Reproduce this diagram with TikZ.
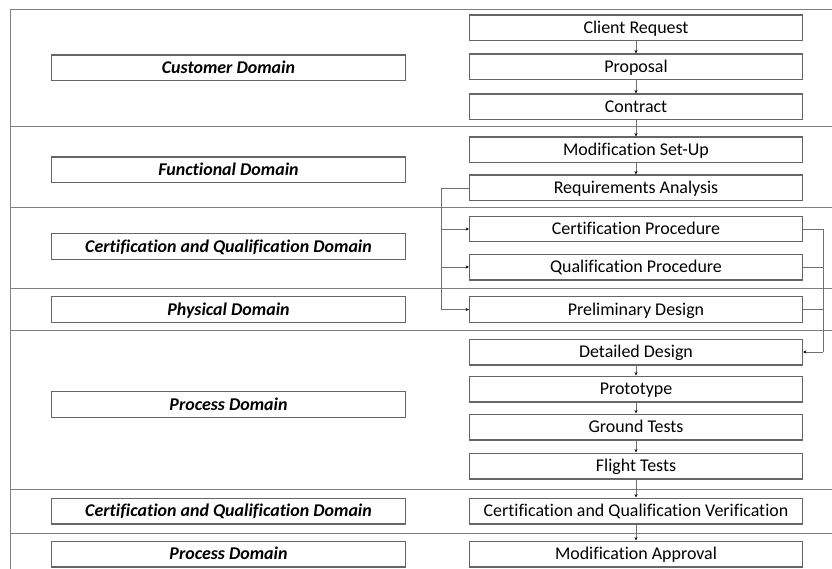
\documentclass[tikz,border=0pt]{standalone}
\usepackage{fontspec}
\setmainfont[Ligatures=CommonOff]{Carlito}
\usetikzlibrary{arrows.meta}
\definecolor{boxline}{HTML}{666666}
\definecolor{sepline}{HTML}{808080}
\definecolor{conline}{HTML}{707070}
\tikzset{
  stepbox/.style={draw=boxline, line width=1.1pt, minimum width=334pt, minimum height=26pt,
    inner sep=0pt, text height=12pt, text depth=0pt, font=\fontsize{18}{21}\selectfont},
  domainbox/.style={draw=boxline, line width=1.1pt, minimum width=355pt, minimum height=26pt,
    inner sep=0pt, text height=12pt, text depth=0pt, font=\fontsize{18}{21}\selectfont\bfseries\itshape},
  sep/.style={draw=sepline, line width=1pt},
  flow/.style={draw=conline, line width=0.7pt, -{Stealth[length=3.5pt,width=3pt,color=black]}},
  bus/.style={draw=conline, line width=0.7pt}
}
\begin{document}
\begin{tikzpicture}[x=1bp, y=-1bp]
\useasboundingbox (0,0) rectangle (832,569);

% frame and domain separators
\draw[sep] (832,10) -- (10,10) -- (10,569);
\foreach \yy in {126,207,288,330,489,533}
  \draw[sep] (10,\yy) -- (832,\yy);

% domain labels
\node[domainbox] (dcust)  at (228.5,68)    {Customer Domain};
\node[domainbox] (dfunc)  at (228.5,170)   {Functional Domain};
\node[domainbox] (dcq)    at (228.5,246.5) {Certification and Qualification Domain};
\node[domainbox] (dphys)  at (228.5,309.5) {Physical Domain};
\node[domainbox] (dproc)  at (228.5,404.5) {Process Domain};
\node[domainbox] (dcq2)   at (228.5,511)   {Certification and Qualification Domain};
\node[domainbox] (dproc2) at (228.5,554)   {Process Domain};

% process steps
\node[stepbox] (req)   at (636,28)    {Client Request};
\node[stepbox] (prop)  at (636,67)    {Proposal};
\node[stepbox] (cont)  at (636,107)   {Contract};
\node[stepbox] (mod)   at (636,150)   {Modification Set-Up};
\node[stepbox] (ra)    at (636,188)   {Requirements Analysis};
\node[stepbox] (cp)    at (636,229)   {Certification Procedure};
\node[stepbox] (qp)    at (636,267)   {Qualification Procedure};
\node[stepbox] (pd)    at (636,309.5) {Preliminary Design};
\node[stepbox] (dd)    at (636,352)   {Detailed Design};
\node[stepbox] (proto) at (636,389)   {Prototype};
\node[stepbox] (gt)    at (636,427)   {Ground Tests};
\node[stepbox] (ft)    at (636,466)   {Flight Tests};
\node[stepbox] (cqv)   at (636,511)   {Certification and Qualification Verification};
\node[stepbox] (ma)    at (636,554)   {Modification Approval};

% straight sequence
\draw[flow] (req) -- (prop);
\draw[flow] (prop) -- (cont);
\draw[flow] (cont) -- (mod);
\draw[flow] (mod) -- (ra);
\draw[flow] (dd) -- (proto);
\draw[flow] (proto) -- (gt);
\draw[flow] (gt) -- (ft);
\draw[flow] (ft) -- (cqv);
\draw[flow] (cqv) -- (ma);

% fan-out from requirements analysis
\coordinate (lb) at (441,0);
\draw[bus] (ra.west) -| (lb |- pd.west);
\draw[flow] (lb |- cp.west) -- (cp.west);
\draw[flow] (lb |- qp.west) -- (qp.west);
\draw[flow] (lb |- pd.west) -- (pd.west);

% fan-in to detailed design
\coordinate (rb) at (823,0);
\draw[bus] (cp.east) -| (rb |- dd.east);
\draw[bus] (qp.east) -- (rb |- qp.east);
\draw[bus] (pd.east) -- (rb |- pd.east);
\draw[flow] (rb |- dd.east) -- (dd.east);
\end{tikzpicture}
\end{document}
